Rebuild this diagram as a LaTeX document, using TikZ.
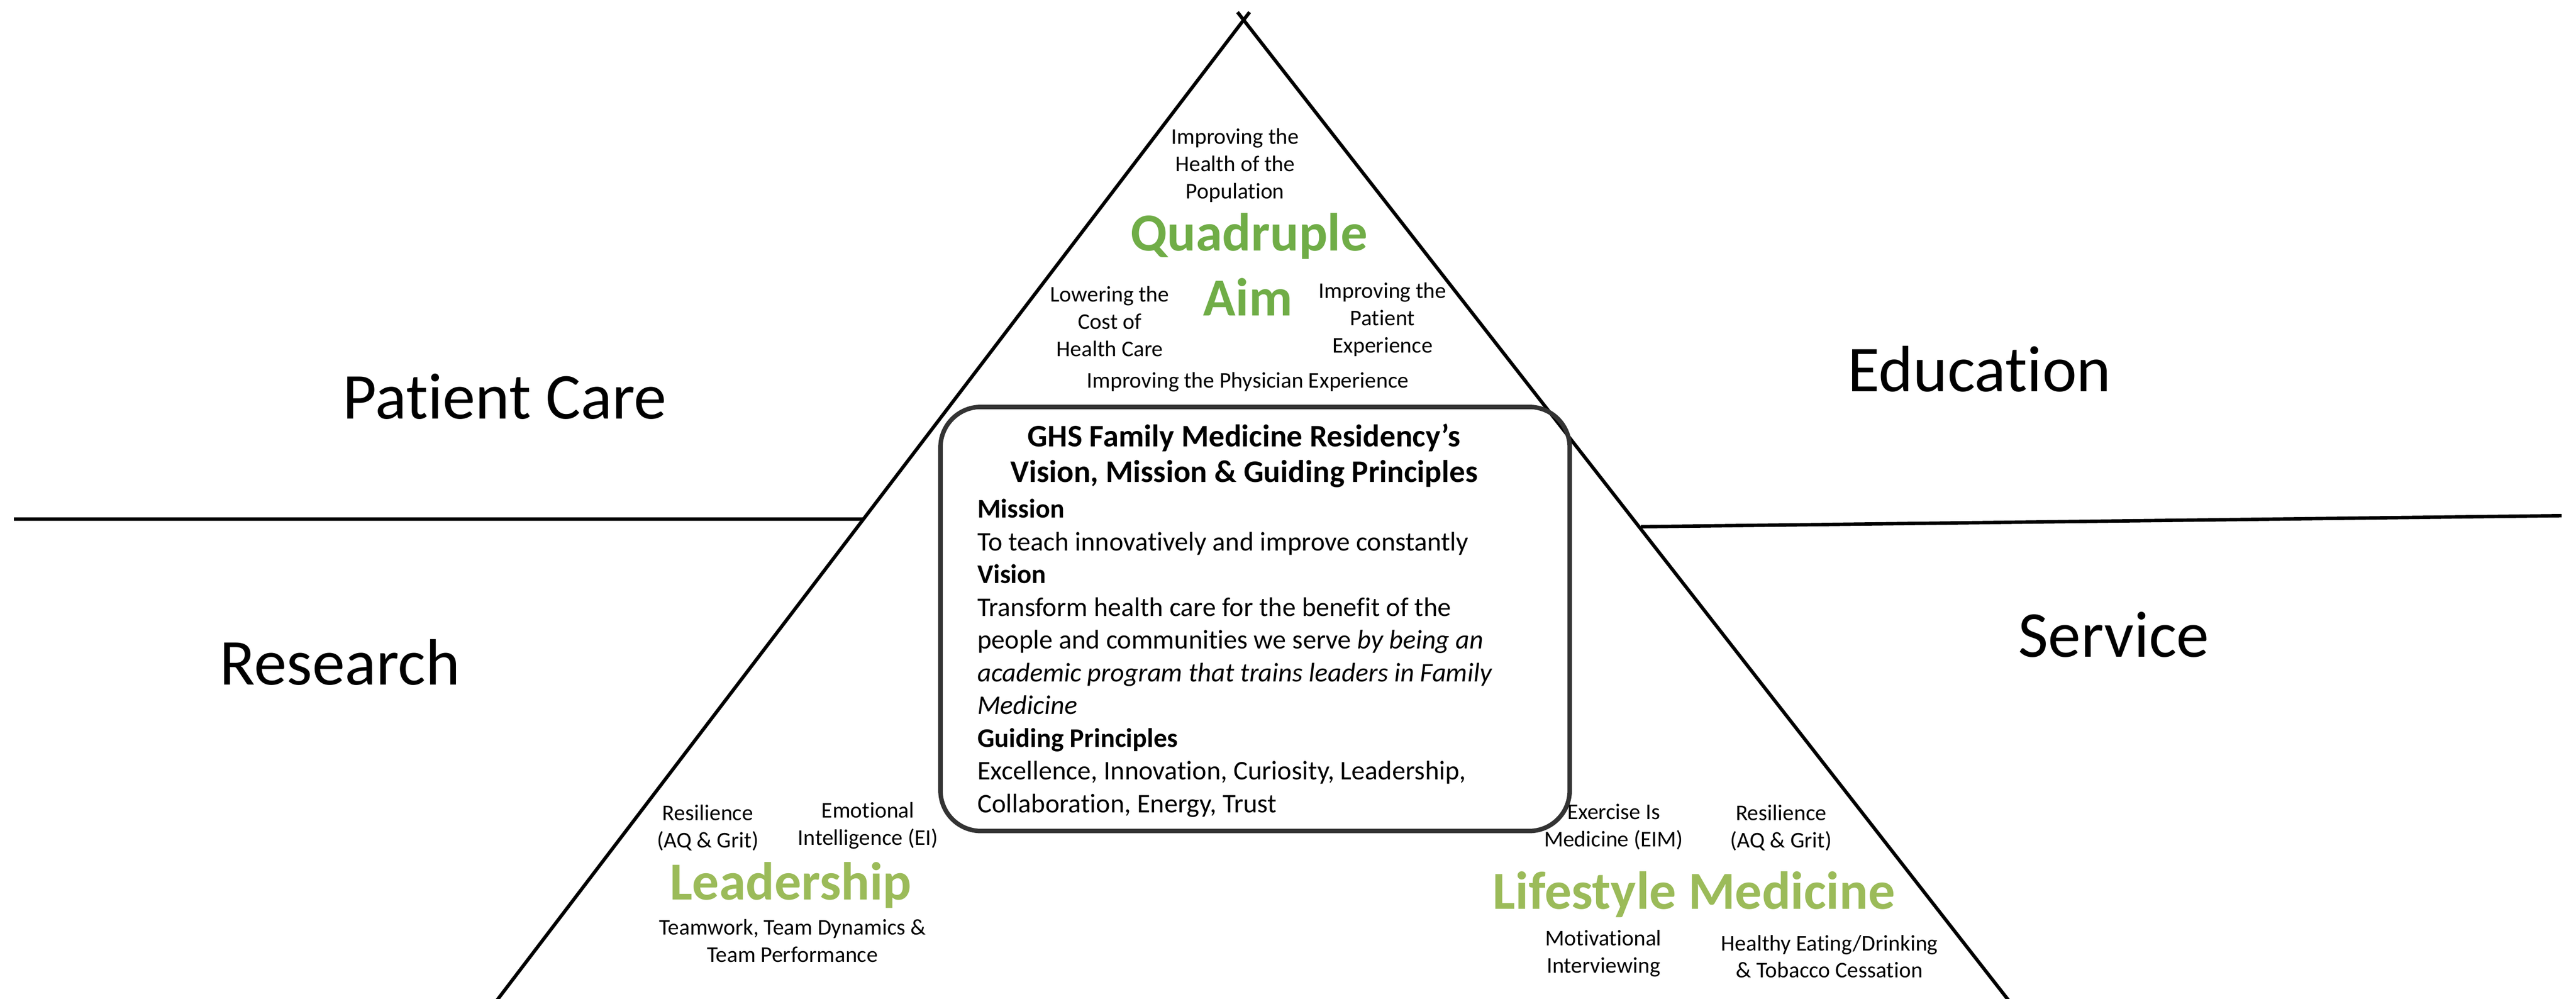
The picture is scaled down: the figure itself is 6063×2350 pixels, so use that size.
\documentclass[tikz,border=0pt]{standalone}
\usepackage{fontspec}
\setmainfont{Carlito}[Ligatures=NoCommon]
\usetikzlibrary{calc}
\definecolor{aimgreen}{RGB}{112,173,71}
\definecolor{leafgreen}{RGB}{155,187,89}

\begin{document}
\begin{tikzpicture}[x=0.01cm, y=-0.01cm,
  smalltext/.style={inner sep=0pt, align=center, font=\fontsize{15}{18.2}\selectfont},
  areatext/.style={inner sep=0pt, anchor=base, font=\fontsize{43.8}{53}\selectfont},
  aimtext/.style={inner sep=0pt, anchor=base, font=\fontsize{35.8}{43}\selectfont\bfseries},
  edgeline/.style={line width=2.3pt, black},
  framenode/.style={rectangle, draw=black!80, line width=3pt, rounded corners=0.95cm, minimum width=14.8cm, minimum height=9.97cm},]
\useasboundingbox (0,0) rectangle (6063,2350);
\fill[white] (0,0) rectangle (6063,2350);
\clip (0,0) rectangle (6063,2350);
% triangle
\coordinate (apex) at (2927,47);
\coordinate (lbase) at (1172,2350);
\coordinate (rbase) at (4725,2350);
\draw[edgeline] ($(lbase)!1.008!(apex)$) -- ($(apex)!1.03!(lbase)$);
\draw[edgeline] ($(rbase)!1.008!(apex)$) -- ($(apex)!1.03!(rbase)$);
% dividers
\coordinate (left_end) at (33,1221);
\coordinate (left_cut) at ($(apex)!0.5098!(lbase)$);
\coordinate (right_cut) at (3862,1239);
\coordinate (right_end) at (6029,1213);
\draw[edgeline] (left_end) -- (left_cut);
\draw[edgeline] (right_cut) -- (right_end);
% areas
\node[areatext] (patient_care) at (1188,985) {Patient Care};
\node[areatext] (education) at (4659,921) {Education};
\node[areatext] (research) at (800,1611) {Research};
\node[areatext] (service) at (4975,1545) {Service};
% quadruple aim
\node[smalltext] (population) at (2907,389) {Improving the\\Health of the\\Population};
\node[aimtext, aimgreen] (quadruple) at (2940,590) {Quadruple};
\node[aimtext, aimgreen] (aim) at (2937,743) {Aim};
\node[smalltext] (cost) at (2612,756) {Lowering the\\Cost of\\Health Care};
\node[smalltext] (patient_exp) at (3254,752) {Improving the\\Patient\\Experience};
\node[smalltext] (physician_exp) at (2937,899) {Improving the Physician Experience};
% vision, mission & guiding principles
\node[framenode] (frame) at (2954,1456) {};
\node[inner sep=0pt, align=center, font=\fontsize{21}{23.9}\selectfont\bfseries] (title) at (2928,1072) {GHS Family Medicine Residency’s\\Vision, Mission \& Guiding Principles};
\node[inner sep=0pt, anchor=west, align=left, font=\fontsize{18}{21.9}\selectfont] (principles) at (2300,1548) {\textbf{Mission}\\
To teach innovatively and improve constantly\\
\textbf{Vision}\\
Transform health care for the benefit of the\\
people and communities we serve \textit{by being an}\\
\textit{academic program that trains leaders in Family}\\
\textit{Medicine}\\
\textbf{Guiding Principles}\\
Excellence, Innovation, Curiosity, Leadership,\\
Collaboration, Energy, Trust};
% leadership
\node[smalltext] (resilience_left) at (1666,1947) {Resilience\\(AQ \& Grit)};
\node[smalltext] (emotional) at (2043,1942) {Emotional\\Intelligence (EI)};
\node[aimtext, leafgreen] (leadership) at (1861,2117) {Leadership};
\node[smalltext] (teamwork) at (1865,2213) {Teamwork, Team Dynamics \&\\Team Performance};
% lifestyle medicine
\node[smalltext] (exercise) at (3798,1945) {Exercise Is\\Medicine (EIM)};
\node[smalltext] (resilience_right) at (4192,1947) {Resilience\\(AQ \& Grit)};
\node[aimtext, leafgreen] (lifestyle) at (3987,2138) {Lifestyle Medicine};
\node[smalltext] (motivational) at (3774,2243) {Motivational\\Interviewing};
\node[smalltext] (eating) at (4306,2250) {Healthy Eating/Drinking\\\& Tobacco Cessation};
\end{tikzpicture}
\end{document}
